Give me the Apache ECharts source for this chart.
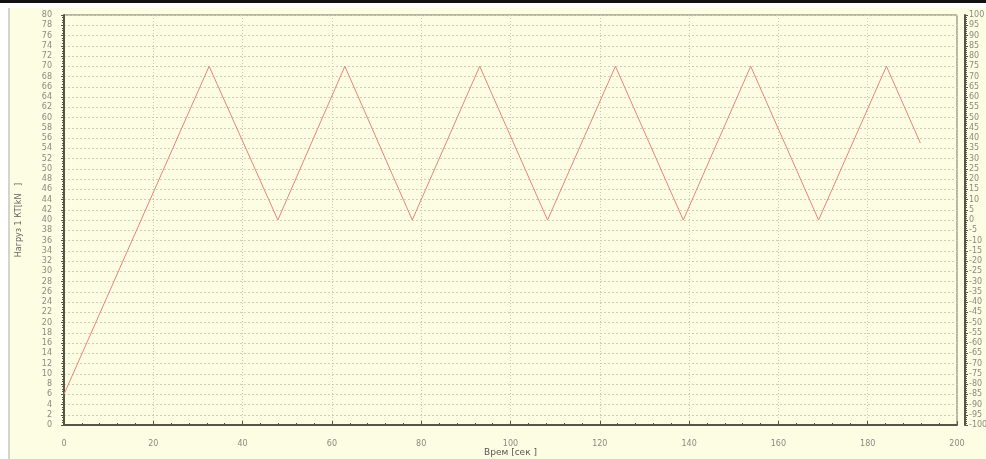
<!DOCTYPE html>
<html>
<head>
<meta charset="utf-8">
<script src="https://cdn.jsdelivr.net/npm/echarts@6/dist/echarts.min.js"></script>
<style>
  html, body { margin: 0; padding: 0; background: #ffffff; }
  #topbar { position: absolute; left: 0; top: 0; width: 986px; height: 3px; background: #111; }
  #panel { position: absolute; left: 8px; top: 8px; width: 978px; height: 451px; background: #fdfde4; border-left: 2px solid #d4d4cc; }
  #chart { position: absolute; left: 0; top: 0; width: 986px; height: 459px; }
</style>
</head>
<body>
<div id="topbar"></div>
<div id="panel"></div>
<div id="chart"></div>
<script>
// Time [s] and load [kN] at each turning point of the cyclic loading
var timeSec = [0, 32.5, 47.9, 62.9, 78.0, 93.1, 108.3, 123.5, 138.7, 153.8, 169.0, 184.2, 191.8];
var loadKN  = [6, 70, 40, 70, 40, 70, 40, 70, 40, 70, 40, 70, 55];

var xTitle = 'Врем [сек ]';
var yTitle = 'Нагруз 1 КТ[kN   ]';

var points = timeSec.map(function (t, i) { return [t, loadKN[i]]; });

var chart = echarts.init(document.getElementById('chart'));
var labelStyle = { color: '#8a8a80', fontSize: 8, fontFamily: 'DejaVu Sans' };
var axisDark = { color: '#55554a', width: 2 };

chart.setOption({
  backgroundColor: 'transparent',
  animation: false,
  grid: {
    left: 64, right: 29, top: 15, bottom: 34,
    outerBoundsMode: 'none',
    containLabel: false,
    show: true, borderColor: '#6e6e60', borderWidth: 1, backgroundColor: 'transparent'
  },
  xAxis: {
    type: 'value', min: 0, max: 200, interval: 20,
    offset: 8,
    name: xTitle, nameLocation: 'middle', nameGap: 15, nameMoveOverlap: false,
    nameTextStyle: { color: '#555', fontSize: 9, fontFamily: 'DejaVu Sans' },
    axisLine: { show: true, lineStyle: axisDark },
    axisTick: { show: true, length: 4, inside: true, lineStyle: { color: '#55554a' } },
    minorTick: { show: true, splitNumber: 5, length: 2, lineStyle: { color: '#55554a' } },
    axisLabel: Object.assign({ margin: 7 }, labelStyle),
    splitLine: { show: true, lineStyle: { color: '#c8c8b4', type: [1, 2] } }
  },
  yAxis: [{
    type: 'value', min: 0, max: 80, interval: 2,
    position: 'left', offset: 8,
    name: yTitle, nameLocation: 'middle', nameGap: 33, nameRotate: 90, nameMoveOverlap: false,
    nameTextStyle: { color: '#666', fontSize: 8, fontFamily: 'DejaVu Sans' },
    axisLine: { show: true, lineStyle: axisDark },
    axisTick: { show: true, length: 3, lineStyle: { color: '#55554a' } },
    minorTick: { show: true, splitNumber: 4, length: 2, lineStyle: { color: '#55554a' } },
    axisLabel: Object.assign({ margin: 4 }, labelStyle),
    splitLine: { show: true, lineStyle: { color: '#cfcfb8', type: [2, 2] } }
  }, {
    type: 'value', min: -100, max: 100, interval: 5,
    position: 'right', offset: 8,
    axisLine: { show: true, lineStyle: axisDark },
    axisTick: { show: true, length: 3, lineStyle: { color: '#55554a' } },
    minorTick: { show: true, splitNumber: 5, length: 2, lineStyle: { color: '#55554a' } },
    axisLabel: Object.assign({ margin: 4 }, labelStyle),
    splitLine: { show: false }
  }],
  series: [{
    type: 'line',
    yAxisIndex: 0,
    data: points,
    symbol: 'none',
    lineStyle: { color: '#e8847a', width: 1 }
  }]
});
</script>
</body>
</html>
